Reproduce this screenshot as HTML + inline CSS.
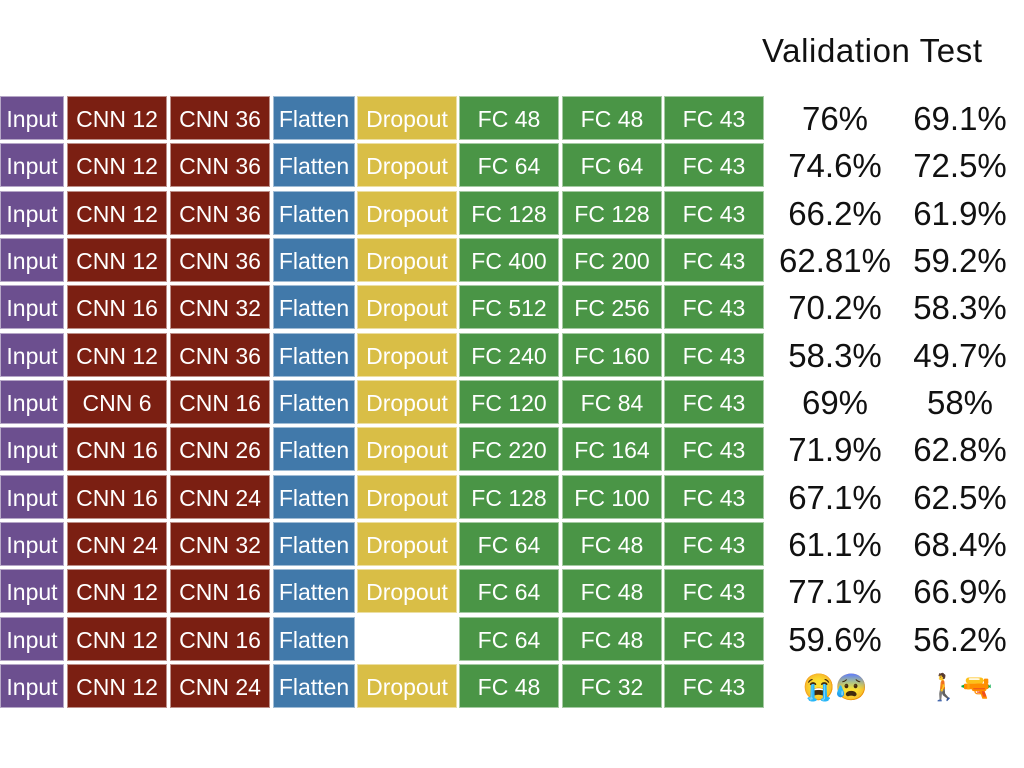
<!DOCTYPE html>
<html><head><meta charset="utf-8"><style>
body{margin:0;width:1024px;height:768px;background:#fff;position:relative;overflow:hidden;font-family:"Liberation Sans",sans-serif}
.c{position:absolute;height:44px;line-height:44px;text-align:center;color:#fff;font-size:23px;white-space:nowrap;overflow:hidden;box-sizing:border-box;border:1px solid rgba(255,255,255,0.5)}
.p{position:absolute;width:150px;text-align:center;font-size:33px;color:#111;line-height:44px}
.h{position:absolute;top:32px;left:762px;font-size:33px;letter-spacing:0.6px;color:#111}
</style></head><body>
<div class="h">Validation Test</div>
<script>
const rows=[
["CNN 12","CNN 36",1,"FC 48","FC 48","76%","69.1%"],
["CNN 12","CNN 36",1,"FC 64","FC 64","74.6%","72.5%"],
["CNN 12","CNN 36",1,"FC 128","FC 128","66.2%","61.9%"],
["CNN 12","CNN 36",1,"FC 400","FC 200","62.81%","59.2%"],
["CNN 16","CNN 32",1,"FC 512","FC 256","70.2%","58.3%"],
["CNN 12","CNN 36",1,"FC 240","FC 160","58.3%","49.7%"],
["CNN 6","CNN 16",1,"FC 120","FC 84","69%","58%"],
["CNN 16","CNN 26",1,"FC 220","FC 164","71.9%","62.8%"],
["CNN 16","CNN 24",1,"FC 128","FC 100","67.1%","62.5%"],
["CNN 24","CNN 32",1,"FC 64","FC 48","61.1%","68.4%"],
["CNN 12","CNN 16",1,"FC 64","FC 48","77.1%","66.9%"],
["CNN 12","CNN 16",0,"FC 64","FC 48","59.6%","56.2%"],
["CNN 12","CNN 24",1,"FC 48","FC 32","😭😰","🚶🔫"]];
const cols=[[0,64,"#6c4f8f"],[67,100,"#7b1f12"],[170,100,"#7b1f12"],[273,82,"#4179aa"],[357,100,"#d9be46"],[459,100,"#4a9546"],[562,100,"#4a9546"],[664,100,"#4a9546"]];
rows.forEach((r,i)=>{
  const y=96+i*47.33;
  const texts=["Input",r[0],r[1],"Flatten",r[2]?"Dropout":null,r[3],r[4],"FC 43"];
  texts.forEach((t,j)=>{
    if(t===null)return;
    const d=document.createElement('div');
    d.className='c';
    
    
    d.style.left=cols[j][0]+'px';d.style.width=cols[j][1]+'px';d.style.top=y+'px';d.style.background=cols[j][2];
    d.textContent=t;document.body.appendChild(d);
  });
  [[r[5],760],[r[6],885]].forEach(([t,x],k)=>{
    const d=document.createElement('div');
    d.className='p';
    
    
    d.style.left=x+'px';d.style.top=(y+1)+'px';
    if(i==12)d.style.fontSize='26px';
    d.textContent=t;document.body.appendChild(d);
  });
});
</script>
</body></html>
